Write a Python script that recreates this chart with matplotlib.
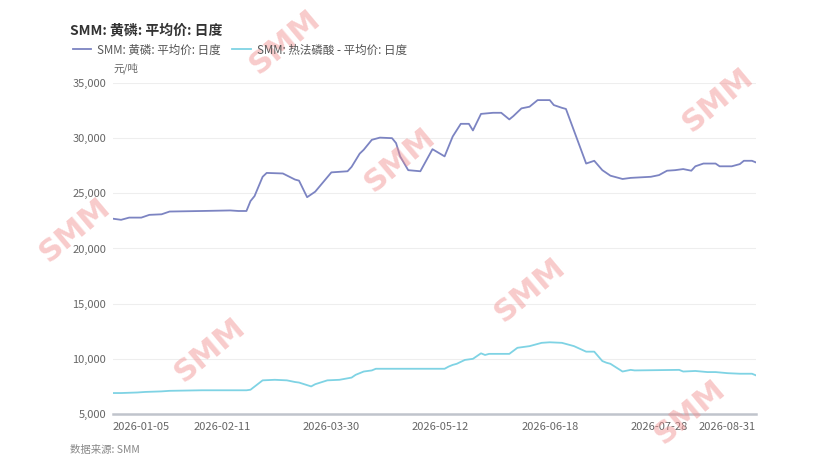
import pandas as pd
import matplotlib
matplotlib.use("Agg")
import matplotlib.pyplot as plt

plt.rcParams['font.family'] = ['Noto Sans CJK SC', 'DejaVu Sans']

# trading calendar (weekdays minus Chinese holidays)
days = pd.bdate_range('2026-01-05', '2026-08-31')
holidays = pd.to_datetime(['2026-02-16', '2026-02-17', '2026-02-18', '2026-02-19', '2026-02-20',
                           '2026-02-23', '2026-04-06', '2026-05-01', '2026-05-04', '2026-05-05',
                           '2026-06-19'])
days = days.difference(holidays)

# 黄磷 average price, key points
p4_dates = ['2026-01-05', '2026-01-07', '2026-01-09', '2026-01-14', '2026-01-16', '2026-01-21',
            '2026-01-23', '2026-02-04', '2026-02-13', '2026-02-25', '2026-02-27', '2026-03-02',
            '2026-03-03', '2026-03-05', '2026-03-06', '2026-03-12', '2026-03-17', '2026-03-18',
            '2026-03-20', '2026-03-24', '2026-03-30', '2026-04-03', '2026-04-07', '2026-04-09',
            '2026-04-10', '2026-04-14', '2026-04-16', '2026-04-21', '2026-04-22', '2026-04-23',
            '2026-04-27', '2026-04-30', '2026-05-08', '2026-05-13', '2026-05-15', '2026-05-19',
            '2026-05-21', '2026-05-22', '2026-05-26', '2026-05-29', '2026-06-02', '2026-06-04',
            '2026-06-05', '2026-06-09', '2026-06-11', '2026-06-15', '2026-06-18', '2026-06-22',
            '2026-06-24', '2026-06-25', '2026-07-02', '2026-07-06', '2026-07-08', '2026-07-10',
            '2026-07-13', '2026-07-15', '2026-07-17', '2026-07-24', '2026-07-28', '2026-07-30',
            '2026-08-03', '2026-08-05', '2026-08-07', '2026-08-10', '2026-08-12', '2026-08-17',
            '2026-08-18', '2026-08-21', '2026-08-25', '2026-08-26', '2026-08-28', '2026-08-31']
p4_values = [22700, 22600, 22800, 22800, 23050, 23100,
             23350, 23400, 23450, 23400, 23400, 24300,
             24750, 26500, 26850, 26800, 26250, 26150,
             24650, 25150, 26900, 27000, 27400, 28600,
             28950, 29850, 30050, 30000, 29550, 28350,
             27100, 27000, 29000, 28350, 30150, 31300,
             31300, 30700, 32200, 32300, 32300, 31700,
             32000, 32700, 32850, 33450, 33450, 33000,
             32750, 32650, 27700, 27950, 27100, 26600,
             26500, 26300, 26400, 26500, 26650, 27050,
             27100, 27200, 27050, 27450, 27700, 27700,
             27450, 27450, 27650, 27950, 27950, 27800]

# 热法磷酸 average price
acid_dates = ['2026-01-05', '2026-01-07', '2026-01-13', '2026-01-15', '2026-01-21', '2026-01-23',
              '2026-02-04', '2026-02-27', '2026-03-02', '2026-03-05', '2026-03-10', '2026-03-13',
              '2026-03-17', '2026-03-18', '2026-03-23', '2026-03-24', '2026-03-27', '2026-04-01',
              '2026-04-07', '2026-04-08', '2026-04-10', '2026-04-14', '2026-04-15', '2026-05-13',
              '2026-05-14', '2026-05-15', '2026-05-18', '2026-05-20', '2026-05-22', '2026-05-26',
              '2026-05-27', '2026-05-28', '2026-06-04', '2026-06-08', '2026-06-11', '2026-06-16',
              '2026-06-18', '2026-06-24', '2026-06-29', '2026-07-02', '2026-07-06', '2026-07-08',
              '2026-07-09', '2026-07-10', '2026-07-15', '2026-07-17', '2026-07-20', '2026-08-04',
              '2026-08-05', '2026-08-10', '2026-08-13', '2026-08-17', '2026-08-20', '2026-08-25',
              '2026-08-28', '2026-08-31']
acid_values = [6900, 6900, 6950, 7000, 7050, 7100,
               7150, 7150, 7200, 8050, 8100, 8050,
               7900, 7850, 7500, 7700, 8050, 8100,
               8300, 8550, 8850, 8950, 9100, 9100,
               9300, 9450, 9550, 9900, 10000, 10500,
               10350, 10450, 10450, 11000, 11150, 11450,
               11500, 11450, 11150, 10650, 10650, 9800,
               9650, 9550, 8850, 9000, 8950, 9000,
               8850, 8900, 8800, 8800, 8700, 8650,
               8650, 8500]

y_ticks = [5000, 10000, 15000, 20000, 25000, 30000, 35000]
tick_idx = [0, 27, 54, 81, 108, 135, 159]

x_p4 = days.get_indexer(pd.to_datetime(p4_dates))
x_acid = days.get_indexer(pd.to_datetime(acid_dates))

fig = plt.figure(figsize=(8.31, 4.68), dpi=100)
ax = fig.add_axes([113 / 831, 1 - 414 / 468, 643 / 831, 331 / 468])

ax.plot(x_p4, p4_values, color='#7c84c2', lw=1.3, label='SMM: 黄磷: 平均价: 日度', zorder=3)
ax.plot(x_acid, acid_values, color='#7fd3e4', lw=1.3, label='SMM: 热法磷酸 - 平均价: 日度', zorder=3)

ax.set_xlim(0, len(days) - 1)
ax.set_ylim(5000, 35000)
ax.set_yticks(y_ticks)
ax.set_yticklabels([f'{v:,}' for v in y_ticks])
ax.grid(axis='y', color='#eeeeee', lw=0.8)
ax.set_axisbelow(True)
for s in ['top', 'right', 'left']:
    ax.spines[s].set_visible(False)
ax.spines['bottom'].set_color('#c0c4cc')
ax.spines['bottom'].set_linewidth(1.8)
ax.tick_params(axis='y', length=0, pad=5, labelsize=8, labelcolor='#666666')
ax.tick_params(axis='x', length=0, pad=6, labelsize=8, labelcolor='#666666')

ax.set_xticks(tick_idx)
labels = ax.set_xticklabels([days[i].strftime('%Y-%m-%d') for i in tick_idx])
labels[0].set_ha('left')
labels[-1].set_ha('right')

fig.text(70 / 831, 1 - 30 / 468, 'SMM: 黄磷: 平均价: 日度', fontsize=10, fontweight='bold',
         color='#333333', va='center')
fig.legend(loc='center left', bbox_to_anchor=(73 / 831, 1 - 50 / 468), ncol=2, frameon=False,
           fontsize=8.3, handlelength=1.6, handletextpad=0.5, columnspacing=1.0,
           borderpad=0, borderaxespad=0, labelcolor='#555555')
fig.text(113 / 831, 1 - 68 / 468, '元/吨', fontsize=7.5, color='#666666', va='center')
fig.text(70 / 831, 1 - 450 / 468, '数据来源: SMM', fontsize=7.5, color='#888888', va='center',
         style='italic')

# SMM watermarks
for wx, wy in [(285, 42), (75, 230), (400, 160), (718, 100), (530, 290), (210, 350), (690, 412)]:
    fig.text(wx / 831, 1 - wy / 468, 'SMM', fontsize=22, fontweight='bold', color='#f08c8c',
             alpha=0.45, rotation=40, ha='center', va='center', family='DejaVu Sans')

fig.savefig('out.png', dpi=100)
